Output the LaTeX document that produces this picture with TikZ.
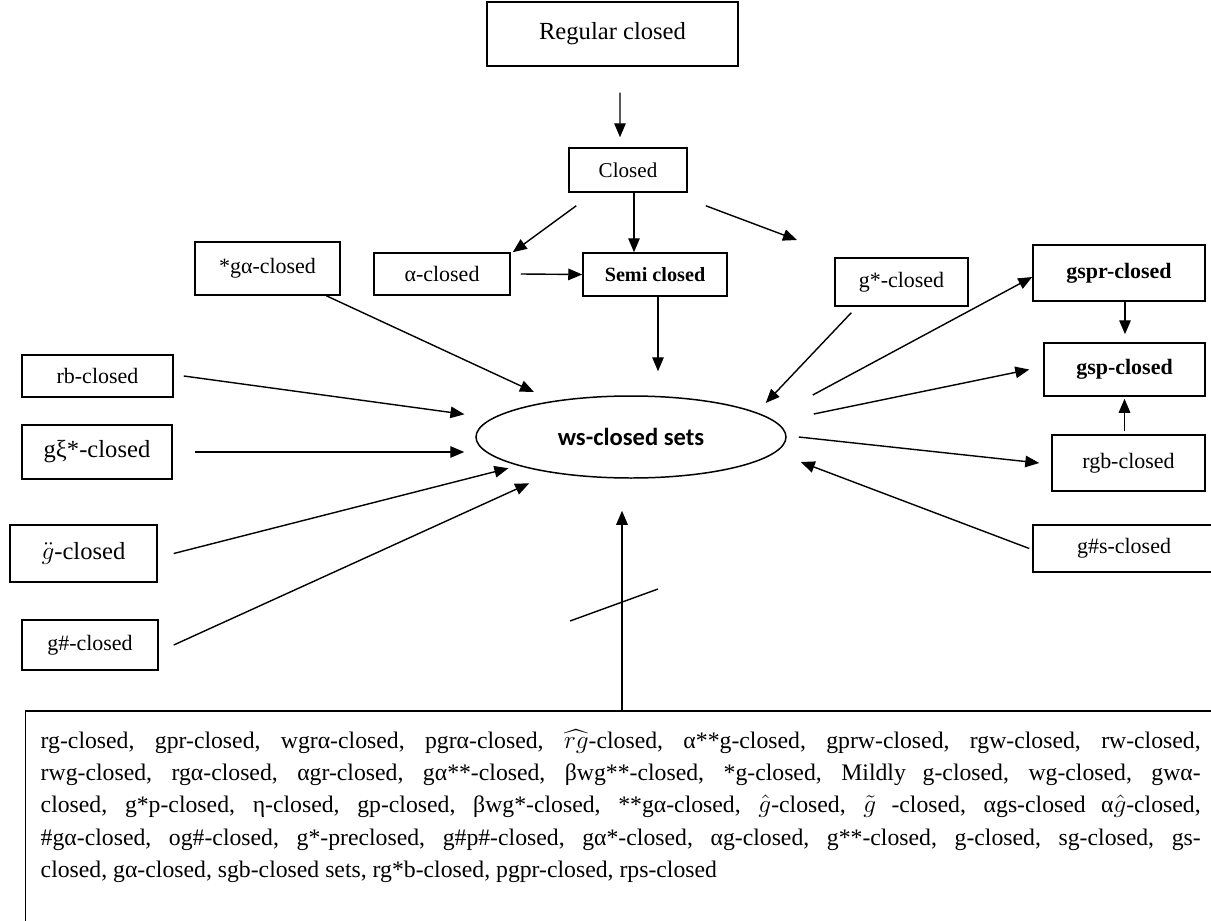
\documentclass[tikz,border=0pt]{standalone}
\usepackage{amsmath}
\usepackage{amsfonts, amssymb}
\usepackage{fontspec}
\setmainfont{Liberation Serif}
\newfontfamily\calibrifont{Carlito}
\usetikzlibrary{arrows.meta, calc, shapes.geometric}

\begin{document}
\begin{tikzpicture}[
    box/.style={draw, line width=0.85pt, rectangle, inner sep=0pt, font=\fontsize{12.5}{15}\selectfont},
    arr/.style={-{Triangle[length=0.28cm, width=0.23cm]}, line width=0.8pt},
  ]
    \useasboundingbox (0,0) rectangle (24.22,-18.42);

    % Top chain
    \node[box, minimum width=5.02cm, minimum height=1.28cm, font=\fontsize{14}{16}\selectfont] (reg) at (12.25,-0.68) {Regular closed};
    \node[box, minimum width=2.36cm, minimum height=0.88cm, font=\fontsize{12}{14}\selectfont] (cls) at (12.56,-3.40) {Closed};
    \node[box, minimum width=2.72cm, minimum height=0.84cm] (alp) at (8.84,-5.48) {α-closed};
    \node[box, minimum width=2.88cm, minimum height=0.86cm, font=\fontsize{11.5}{14}\selectfont\bfseries] (semi) at (13.10,-5.49) {Semi closed};
    \coordinate (cls-gap) at (15.94,-4.80);

    % Centre
    \node[draw, ellipse, line width=0.85pt, inner sep=0pt, minimum width=6.2cm, minimum height=1.64cm, font=\calibrifont\fontsize{14}{16}\selectfont\bfseries] (ws) at (12.62,-8.74) {ws-closed sets};

    % Left column
    \node[box, minimum width=2.90cm, minimum height=1.06cm] (sga) at (5.35,-5.37) {*gα-closed};
    \node[box, minimum width=3.02cm, minimum height=0.84cm] (rb) at (1.95,-7.52) {rb-closed};
    \node[box, minimum width=3.00cm, minimum height=1.08cm, font=\fontsize{14}{16}\selectfont] (gxi) at (1.94,-9.04) {gξ*-closed};
    \node[box, minimum width=2.94cm, minimum height=1.14cm, font=\fontsize{14}{16}\selectfont] (gdd) at (1.67,-11.07) {$\ddot{g}$-closed};
    \node[box, minimum width=2.72cm, minimum height=1.00cm] (gsh) at (1.80,-12.90) {g\#-closed};

    % Right column
    \node[box, minimum width=2.66cm, minimum height=0.96cm] (gst) at (18.03,-5.64) {g*-closed};
    \node[box, minimum width=3.44cm, minimum height=1.12cm, font=\fontsize{12.5}{15}\selectfont\bfseries] (gspr) at (22.38,-5.46) {gspr-closed};
    \node[box, minimum width=3.22cm, minimum height=1.06cm, font=\fontsize{12.5}{15}\selectfont\bfseries] (gsp) at (22.49,-7.39) {gsp-closed};
    \node[box, minimum width=3.06cm, minimum height=1.12cm] (rgb) at (22.57,-9.26) {rgb-closed};
    \node[box, minimum width=3.64cm, minimum height=0.94cm] (gss) at (22.48,-10.97) {g\#s-closed};

    % Bottom list
    \node[draw, line width=0.85pt, anchor=north west, text width=23.2cm, inner xsep=0.3cm, inner ysep=0.38cm, align=justify, font=\fontsize{13.5}{18.4}\selectfont] (list) at (0.50,-14.20) {%
      \hyphenpenalty=10000
      rg-closed, gpr-closed, wgrα-closed, pgrα-closed, $\widehat{rg}$-closed, α**g-closed, gprw-closed, rgw-closed, rw-closed,\linebreak
      rwg-closed, rgα-closed, αgr-closed, gα**-closed, βwg**-closed, *g-closed, Mildly g-closed, wg-closed, gwα-\linebreak
      closed, g*p-closed, η-closed, gp-closed, βwg*-closed, **gα-closed, $\hat{g}$-closed, $\tilde{g}$ -closed, αgs-closed α$\hat{g}$-closed,\linebreak
      \#gα-closed, og\#-closed, g*-preclosed, g\#p\#-closed, gα*-closed, αg-closed, g**-closed, g-closed, sg-closed, gs-\linebreak
      closed, gα-closed, sgb-closed sets, rg*b-closed, pgpr-closed, rps-closed\rule[-2cm]{0pt}{0pt}};

    % Top arrows
    \draw[arr] ([shift={(0.15,-0.52)}]reg.south) -- ([shift={(-0.16,0.2)}]cls.north);
    \draw[arr] ([shift={(0.16,-0.26)}]cls.south west) -- ([xshift=0.04cm]alp.north east);
    \draw[arr] ([xshift=0.12cm]cls.south) -- ([xshift=0.12cm]cls.south |- semi.north);
    \draw[arr] ([shift={(0.36,-0.26)}]cls.south east) -- (cls-gap);
    \draw[arr] ([xshift=0.2cm]alp.east) -- (semi.west);
    \draw[arr] ([xshift=0.06cm]semi.south) -- ([shift={(0.06,0.48)}]semi.south |- ws.north);

    % Into the ellipse from the left
    \draw[arr, shorten >=0.42cm] (sga) -- (ws);
    \draw[arr, shorten >=0.56cm] ([xshift=0.2cm]rb.east) -- (ws);
    \draw[arr] ([xshift=0.44cm]gxi.east) -- ([xshift=-0.22cm]gxi -| ws.west);
    \draw[arr, shorten >=0.2cm] ([xshift=0.32cm]gdd.east) -- (ws);
    \draw[arr, shorten >=0.5cm] ([xshift=0.3cm]gsh.east) -- (ws);

    % Right side
    \draw[arr] ([shift={(0.34,-0.12)}]gst.south west) -- ([shift={(-0.42,0.68)}]ws.east);
    \draw[arr] ([shift={(0.52,0.84)}]ws.east) -- ([yshift=-0.08cm]gspr.west);
    \draw[arr] ([xshift=0.12cm]gspr.south) -- ([shift={(0.12,0.16)}]gspr.south |- gsp.north);
    \draw[arr] ([shift={(0.54,0.46)}]ws.east) -- ([xshift=-0.28cm]gsp.west);
    \draw[arr] ([yshift=0.06cm]gsp.south |- rgb.north) -- ([yshift=-0.04cm]gsp.south);
    \draw[arr] ([xshift=0.24cm]ws.east) -- ([xshift=-0.24cm]rgb.west);
    \draw[arr] ([xshift=-0.06cm]gss.west) -- ([shift={(0.28,-0.5)}]ws.east);

    % Non-implication from below
    \draw[arr] ([xshift=-0.18cm]ws.south |- list.north) -- ([shift={(-0.18,-0.64)}]ws.south);
    \draw[line width=0.8pt] (11.40,-12.42) -- (13.16,-11.78);

\end{tikzpicture}
\end{document}
